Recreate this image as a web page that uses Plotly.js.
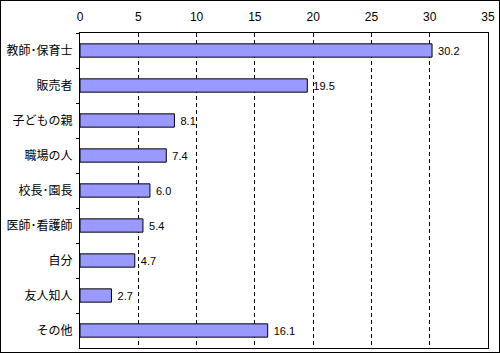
<!DOCTYPE html>
<html>
<head>
<meta charset="utf-8">
<script src="https://cdn.plot.ly/plotly-3.0.1.min.js"></script>
<style>
body{margin:0;background:#fff;}
#wrap{position:relative;width:500px;height:353px;}
#chart{position:absolute;left:0;top:0;width:500px;height:353px;}
#frame{position:absolute;left:0;top:0;width:500px;height:353px;box-sizing:border-box;border:1px solid #000;pointer-events:none;}
</style>
</head>
<body>
<div id="wrap"><div id="chart"></div><div id="frame"></div></div>
<script>
const categories = ["教師･保育士","販売者","子どもの親","職場の人","校長･園長","医師･看護師","自分","友人知人","その他"];
const values = [30.2, 19.5, 8.1, 7.4, 6.0, 5.4, 4.7, 2.7, 16.1];
const xTicks = [0,5,10,15,20,25,30,35];

const font = {family: '"Noto Sans CJK JP", "DejaVu Sans", sans-serif', size: 12, color: '#000'};

Plotly.newPlot('chart', [{
  type: 'bar',
  orientation: 'h',
  y: categories,
  x: values,
  width: 0.38,
  marker: {color: '#9999ff', line: {color: '#000', width: 1}},
  text: values.map(v => ' ' + v.toFixed(1)),
  textposition: 'outside',
  cliponaxis: false,
  textfont: {family: '"Liberation Sans", Arial, sans-serif', size: 11, color: '#000'},
  hoverinfo: 'skip'
}], {
  width: 500, height: 353,
  margin: {l: 80, r: 12, t: 33, b: 5},
  paper_bgcolor: '#fff', plot_bgcolor: '#fff',
  showlegend: false,
  font: font,
  xaxis: {
    side: 'top', range: [0, 35], tickvals: xTicks, ticktext: xTicks.map(String),
    showgrid: true, gridcolor: '#000', griddash: '4px,3px', gridwidth: 1,
    zeroline: false, showline: true, linecolor: '#000', linewidth: 1, mirror: true,
    ticks: '', ticklabelstandoff: 6,
    tickfont: {family: '"Liberation Sans", Arial, sans-serif', size: 12, color: '#000'},
    fixedrange: true
  },
  yaxis: {
    type: 'category', autorange: 'reversed',
    showline: true, linecolor: '#000', linewidth: 1, mirror: true,
    ticks: 'outside', tickson: 'boundaries', ticklen: 3, tickcolor: '#000',
    ticklabelstandoff: 4,
    showgrid: false, zeroline: false,
    tickfont: font, fixedrange: true
  }
}, {staticPlot: true});
</script>
</body>
</html>
